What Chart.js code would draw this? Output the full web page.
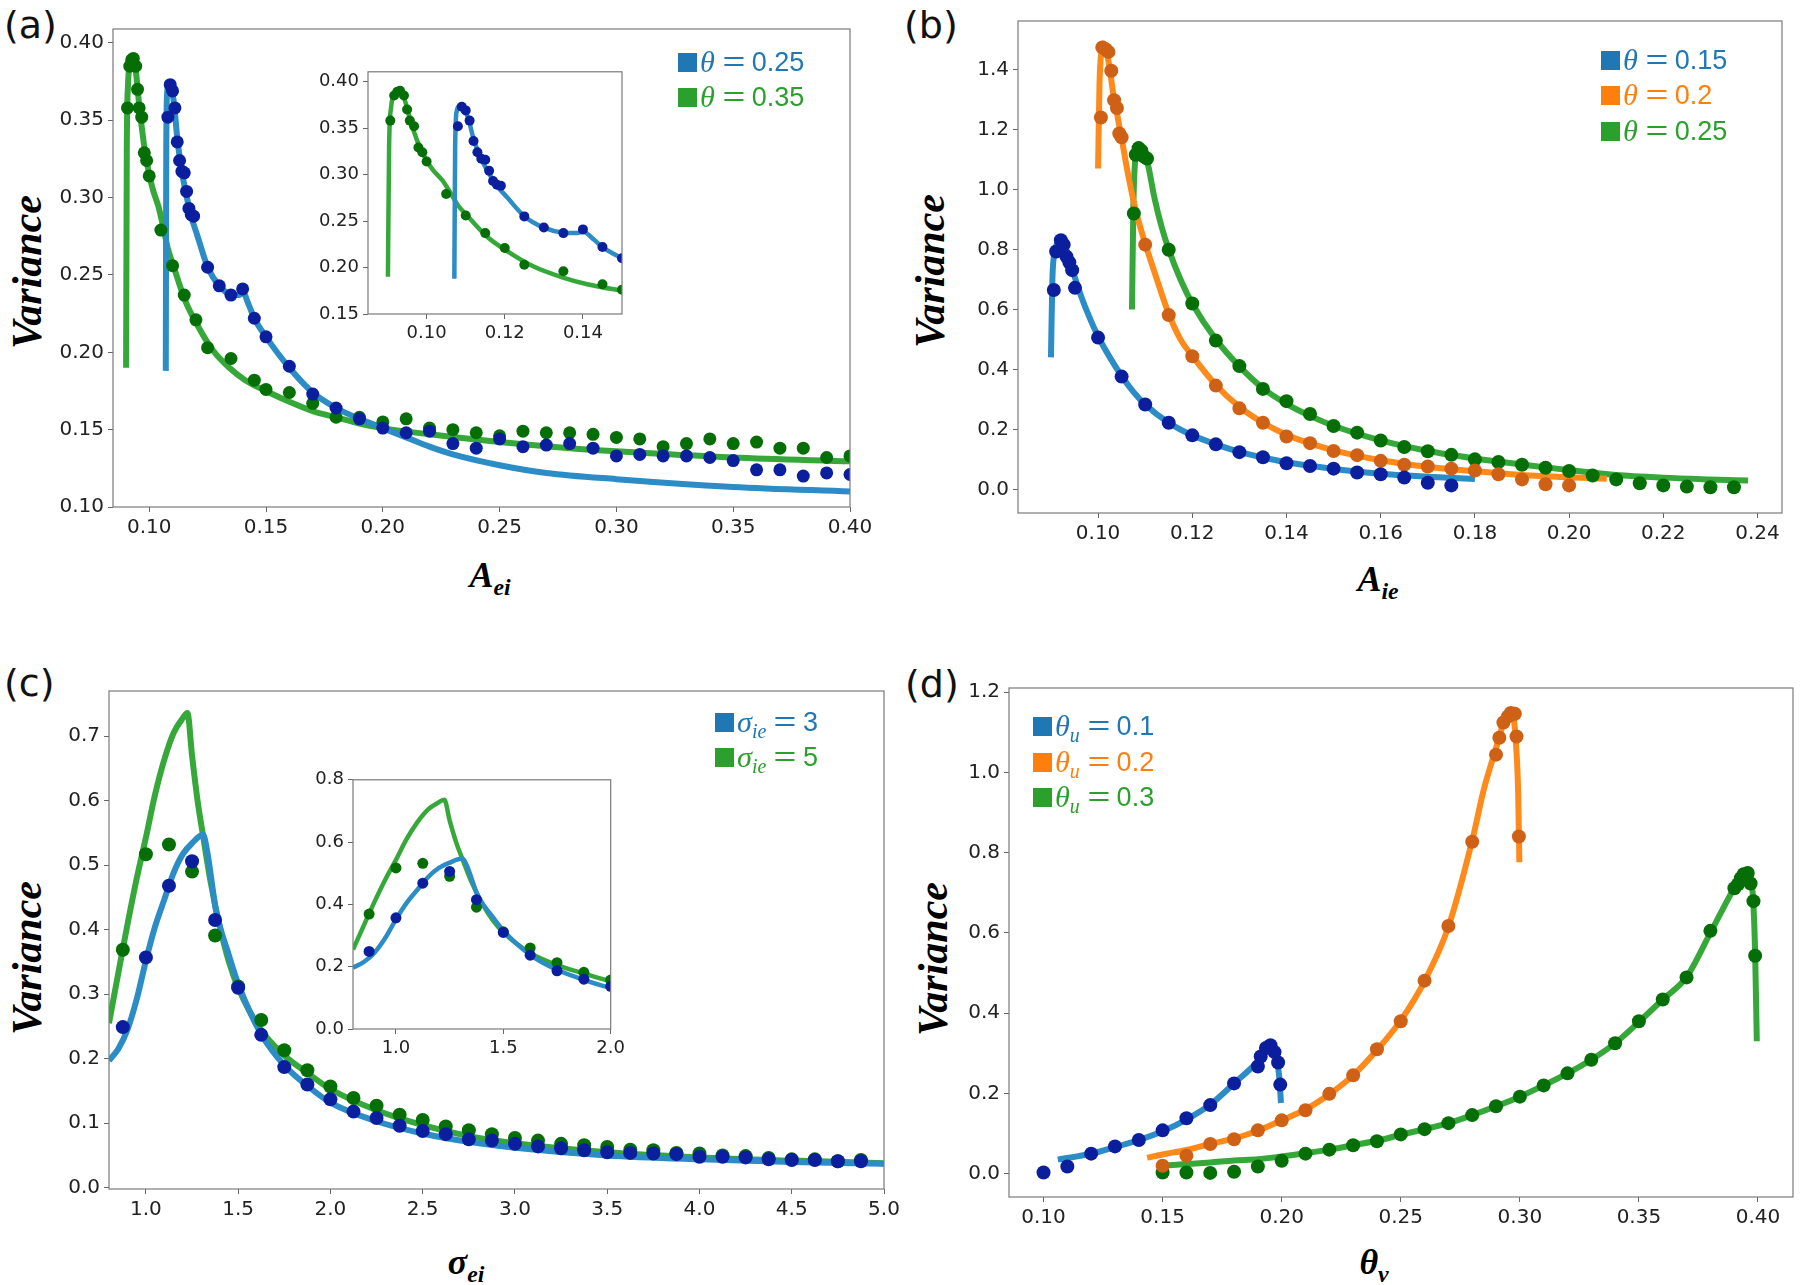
<!DOCTYPE html>
<html>
<head>
<meta charset="utf-8">
<script src="https://cdn.jsdelivr.net/npm/chart.js@4.4.1/dist/chart.umd.min.js"></script>
<style>
  body { margin: 0; background: #fff; }
  #fig { position: relative; width: 1800px; height: 1285px; overflow: hidden; background: #fff; }
  #fig canvas { position: absolute; }
  .pl { position: absolute; font: 38px 'DejaVu Sans', sans-serif; line-height: 1; color: #111; }
  .yt { position: absolute; font: italic bold 42px 'Liberation Serif', serif; color: #000;
        transform: translate(-50%, -50%) rotate(-90deg); white-space: nowrap; line-height: 1; }
  .xt { position: absolute; font: italic bold 36px 'Liberation Serif', serif; color: #000;
        transform: translate(-50%, -50%); white-space: nowrap; line-height: 1; }
  .xt sub, .leg sub { font-size: 0.66em; vertical-align: -0.32em; line-height: 0; }
  .leg { position: absolute; font: 27px 'Liberation Sans', sans-serif; line-height: 1; }
  .row { position: absolute; left: 0; white-space: nowrap; display: flex; align-items: center;
         height: 32px; transform: translateY(-50%); }
  .sw { width: 19px; height: 19px; display: inline-block; margin-right: 3px; }
  .m { font-family: 'Liberation Serif', serif; font-style: italic; font-size: 1.12em; }
  .eq { display: inline-block; margin: 0 10px 0 11px; transform: scaleX(1.45); }
</style>
</head>
<body>
<div id="fig">
  <div class="pl" style="left:4px;top:6px">(a)</div>
  <div class="pl" style="left:904px;top:6px">(b)</div>
  <div class="pl" style="left:4px;top:664px">(c)</div>
  <div class="pl" style="left:905px;top:665px">(d)</div>

  <div class="yt" style="left:27px;top:272px">Variance</div>
  <div class="yt" style="left:930px;top:271px">Variance</div>
  <div class="yt" style="left:27px;top:958px">Variance</div>
  <div class="yt" style="left:933px;top:959px">Variance</div>

  <div class="xt" style="left:490px;top:575px">A<sub>ei</sub></div>
  <div class="xt" style="left:1378px;top:579px">A<sub>ie</sub></div>
  <div class="xt" style="left:466px;top:1262px">σ<sub>ei</sub></div>
  <div class="xt" style="left:1374px;top:1262px">θ<sub>v</sub></div>
</div>

<script>
// ---------- panel (a): variance vs A_ei ----------
const aXTicks = [0.10, 0.15, 0.20, 0.25, 0.30, 0.35, 0.40];
const aYTicks = [0.10, 0.15, 0.20, 0.25, 0.30, 0.35, 0.40];
const aInsetXTicks = [0.10, 0.12, 0.14];
const aInsetYTicks = [0.15, 0.20, 0.25, 0.30, 0.35, 0.40];

const aBlueLineX = [0.1071, 0.1073, 0.1077, 0.1084, 0.1094, 0.1107, 0.112, 0.1137, 0.1154, 0.118, 0.1206, 0.125, 0.13, 0.135, 0.1385, 0.1401, 0.1428, 0.145, 0.15, 0.16, 0.17, 0.18, 0.19, 0.20, 0.21, 0.22, 0.23, 0.25, 0.27, 0.30, 0.35, 0.40];
const aBlueLineY = [0.188, 0.330, 0.368, 0.3737, 0.372, 0.3597, 0.3386, 0.3194, 0.3053, 0.2878, 0.2755, 0.2552, 0.2429, 0.2375, 0.237, 0.2385, 0.230, 0.2219, 0.210, 0.190, 0.174, 0.164, 0.157, 0.151, 0.145, 0.139, 0.134, 0.127, 0.122, 0.118, 0.113, 0.110];
const aGreenLineX = [0.0901, 0.0904, 0.0909, 0.0917, 0.0927, 0.0937, 0.0947, 0.0957, 0.0967, 0.098, 0.10, 0.1017, 0.104, 0.106, 0.108, 0.1103, 0.1154, 0.1206, 0.1274, 0.1343, 0.1411, 0.15, 0.16, 0.17, 0.18, 0.19, 0.20, 0.22, 0.25, 0.28, 0.30, 0.35, 0.40];
const aGreenLineY = [0.190, 0.330, 0.372, 0.386, 0.390, 0.388, 0.376, 0.360, 0.347, 0.332, 0.315, 0.3045, 0.294, 0.281, 0.267, 0.2562, 0.2334, 0.2177, 0.2010, 0.1900, 0.1820, 0.175, 0.168, 0.162, 0.158, 0.154, 0.151, 0.147, 0.142, 0.138, 0.136, 0.132, 0.1295];

const aBlueDotX = [0.108, 0.109, 0.110, 0.111, 0.112, 0.113, 0.114, 0.115, 0.116, 0.117, 0.118, 0.119, 0.125, 0.13, 0.135, 0.14, 0.145, 0.15, 0.16, 0.17, 0.18, 0.19, 0.20, 0.21, 0.22, 0.23, 0.24, 0.25, 0.26, 0.27, 0.28, 0.29, 0.30, 0.31, 0.32, 0.33, 0.34, 0.35, 0.36, 0.37, 0.38, 0.39, 0.40];
const aBlueDotY = [0.352, 0.373, 0.369, 0.358, 0.336, 0.324, 0.317, 0.316, 0.304, 0.293, 0.289, 0.288, 0.255, 0.243, 0.237, 0.241, 0.222, 0.210, 0.191, 0.173, 0.164, 0.157, 0.151, 0.148, 0.149, 0.141, 0.138, 0.144, 0.139, 0.140, 0.141, 0.138, 0.133, 0.134, 0.133, 0.133, 0.132, 0.130, 0.124, 0.124, 0.120, 0.122, 0.121];
const aGreenDotX = [0.0907, 0.0917, 0.0925, 0.0932, 0.0942, 0.095, 0.0957, 0.0968, 0.0979, 0.0989, 0.10, 0.105, 0.11, 0.115, 0.12, 0.125, 0.135, 0.145, 0.15, 0.16, 0.17, 0.18, 0.19, 0.20, 0.21, 0.22, 0.23, 0.24, 0.25, 0.26, 0.27, 0.28, 0.29, 0.30, 0.31, 0.32, 0.33, 0.34, 0.35, 0.36, 0.37, 0.38, 0.39, 0.40];
const aGreenDotY = [0.358, 0.385, 0.389, 0.390, 0.385, 0.370, 0.358, 0.352, 0.329, 0.324, 0.314, 0.279, 0.256, 0.237, 0.221, 0.203, 0.196, 0.182, 0.176, 0.174, 0.167, 0.158, 0.158, 0.155, 0.157, 0.151, 0.150, 0.148, 0.146, 0.149, 0.148, 0.148, 0.147, 0.145, 0.144, 0.139, 0.141, 0.144, 0.141, 0.142, 0.138, 0.138, 0.132, 0.133];

// ---------- panel (b): variance vs A_ie ----------
const bXTicks = [0.10, 0.12, 0.14, 0.16, 0.18, 0.20, 0.22, 0.24];
const bYTicks = [0.0, 0.2, 0.4, 0.6, 0.8, 1.0, 1.2, 1.4];

const bBlueLineX = [0.0900, 0.0903, 0.0908, 0.0915, 0.092, 0.093, 0.094, 0.095, 0.0965, 0.098, 0.100, 0.1025, 0.105, 0.1075, 0.11, 0.115, 0.12, 0.125, 0.13, 0.135, 0.14, 0.15, 0.16, 0.17, 0.18];
const bBlueLineY = [0.44, 0.70, 0.79, 0.825, 0.832, 0.81, 0.765, 0.71, 0.64, 0.58, 0.51, 0.44, 0.378, 0.325, 0.283, 0.222, 0.180, 0.150, 0.125, 0.106, 0.090, 0.068, 0.052, 0.042, 0.034];
const bOrangeLineX = [0.1000, 0.1003, 0.1007, 0.1011, 0.1018, 0.1025, 0.1033, 0.104, 0.105, 0.1065, 0.108, 0.11, 0.1125, 0.115, 0.1175, 0.12, 0.125, 0.13, 0.135, 0.14, 0.145, 0.15, 0.16, 0.17, 0.18, 0.19, 0.20, 0.208];
const bOrangeLineY = [1.07, 1.35, 1.46, 1.487, 1.46, 1.40, 1.31, 1.255, 1.17, 1.04, 0.93, 0.82, 0.70, 0.585, 0.50, 0.445, 0.348, 0.275, 0.222, 0.182, 0.153, 0.130, 0.097, 0.075, 0.060, 0.048, 0.040, 0.035];
const bGreenLineX = [0.1072, 0.1075, 0.1079, 0.1085, 0.109, 0.1097, 0.1105, 0.112, 0.1135, 0.115, 0.1175, 0.12, 0.125, 0.13, 0.135, 0.14, 0.145, 0.15, 0.16, 0.17, 0.18, 0.19, 0.20, 0.21, 0.22, 0.23, 0.238];
const bGreenLineY = [0.60, 0.95, 1.10, 1.135, 1.142, 1.13, 1.09, 0.97, 0.875, 0.80, 0.70, 0.62, 0.50, 0.41, 0.337, 0.285, 0.245, 0.212, 0.163, 0.128, 0.103, 0.083, 0.064, 0.048, 0.039, 0.033, 0.029];

const bBlueDotX = [0.0906, 0.0911, 0.0921, 0.0927, 0.0933, 0.0939, 0.0945, 0.0951, 0.10, 0.105, 0.11, 0.115, 0.12, 0.125, 0.13, 0.135, 0.14, 0.145, 0.15, 0.155, 0.16, 0.165, 0.17, 0.175];
const bBlueDotY = [0.665, 0.793, 0.831, 0.816, 0.776, 0.757, 0.731, 0.672, 0.506, 0.376, 0.283, 0.222, 0.180, 0.150, 0.124, 0.107, 0.087, 0.078, 0.069, 0.056, 0.050, 0.039, 0.022, 0.013];
const bOrangeDotX = [0.1006, 0.1009, 0.1016, 0.1022, 0.1028, 0.1034, 0.104, 0.1045, 0.105, 0.11, 0.115, 0.12, 0.125, 0.13, 0.135, 0.14, 0.145, 0.15, 0.155, 0.16, 0.165, 0.17, 0.175, 0.18, 0.185, 0.19, 0.195, 0.20];
const bOrangeDotY = [1.240, 1.474, 1.468, 1.459, 1.396, 1.298, 1.272, 1.187, 1.174, 0.816, 0.581, 0.444, 0.346, 0.270, 0.222, 0.176, 0.154, 0.128, 0.114, 0.095, 0.082, 0.076, 0.069, 0.063, 0.050, 0.033, 0.017, 0.013];
const bGreenDotX = [0.1076, 0.108, 0.1086, 0.1092, 0.1098, 0.1104, 0.115, 0.12, 0.125, 0.13, 0.135, 0.14, 0.145, 0.15, 0.155, 0.16, 0.165, 0.17, 0.175, 0.18, 0.185, 0.19, 0.195, 0.20, 0.205, 0.21, 0.215, 0.22, 0.225, 0.23, 0.235];
const bGreenDotY = [0.920, 1.116, 1.138, 1.129, 1.109, 1.103, 0.799, 0.620, 0.496, 0.411, 0.335, 0.294, 0.251, 0.211, 0.189, 0.163, 0.141, 0.127, 0.115, 0.100, 0.091, 0.082, 0.072, 0.061, 0.046, 0.033, 0.020, 0.013, 0.009, 0.007, 0.007];

// ---------- panel (c): variance vs sigma_ei ----------
const cXTicks = [1.0, 1.5, 2.0, 2.5, 3.0, 3.5, 4.0, 4.5, 5.0];
const cYTicks = [0.0, 0.1, 0.2, 0.3, 0.4, 0.5, 0.6, 0.7];
const cInsetXTicks = [1.0, 1.5, 2.0];
const cInsetYTicks = [0.0, 0.2, 0.4, 0.6, 0.8];

const cBlueLineX = [0.8, 0.85, 0.9, 0.95, 1.0, 1.05, 1.1, 1.15, 1.2, 1.25, 1.31, 1.33, 1.38, 1.45, 1.5, 1.625, 1.75, 1.875, 2.0, 2.25, 2.5, 2.75, 3.0, 3.5, 4.0, 4.5, 5.0];
const cBlueLineY = [0.197, 0.215, 0.245, 0.292, 0.352, 0.405, 0.447, 0.488, 0.517, 0.534, 0.547, 0.525, 0.430, 0.360, 0.316, 0.238, 0.190, 0.158, 0.132, 0.103, 0.084, 0.071, 0.062, 0.050, 0.044, 0.040, 0.037];
const cGreenLineX = [0.8, 0.85, 0.9, 0.95, 1.0, 1.05, 1.1, 1.15, 1.2, 1.225, 1.25, 1.28, 1.31, 1.35, 1.4, 1.45, 1.5, 1.625, 1.75, 1.875, 2.0, 2.25, 2.5, 2.75, 3.0, 3.5, 4.0, 4.5, 5.0];
const cGreenLineY = [0.255, 0.332, 0.408, 0.479, 0.543, 0.610, 0.664, 0.705, 0.728, 0.736, 0.670, 0.600, 0.545, 0.475, 0.405, 0.350, 0.310, 0.244, 0.205, 0.178, 0.153, 0.120, 0.097, 0.080, 0.069, 0.055, 0.047, 0.042, 0.038];

const cDotX = [0.875, 1.0, 1.125, 1.25, 1.375, 1.5, 1.625, 1.75, 1.875, 2.0, 2.125, 2.25, 2.375, 2.5, 2.625, 2.75, 2.875, 3.0, 3.125, 3.25, 3.375, 3.5, 3.625, 3.75, 3.875, 4.0, 4.125, 4.25, 4.375, 4.5, 4.625, 4.75, 4.875];
const cBlueDotY = [0.249, 0.357, 0.468, 0.506, 0.415, 0.310, 0.237, 0.187, 0.160, 0.137, 0.118, 0.108, 0.096, 0.088, 0.083, 0.075, 0.073, 0.068, 0.064, 0.061, 0.058, 0.055, 0.054, 0.053, 0.052, 0.048, 0.048, 0.047, 0.044, 0.043, 0.043, 0.041, 0.041];
const cGreenDotY = [0.369, 0.517, 0.532, 0.490, 0.391, 0.312, 0.260, 0.213, 0.182, 0.157, 0.139, 0.127, 0.113, 0.105, 0.095, 0.089, 0.083, 0.077, 0.073, 0.068, 0.066, 0.063, 0.059, 0.058, 0.054, 0.053, 0.050, 0.049, 0.046, 0.044, 0.044, 0.041, 0.043];

// ---------- panel (d): variance vs theta_v ----------
const dXTicks = [0.10, 0.15, 0.20, 0.25, 0.30, 0.35, 0.40];
const dYTicks = [0.0, 0.2, 0.4, 0.6, 0.8, 1.0, 1.2];

const dBlueLineX = [0.106, 0.12, 0.13, 0.14, 0.15, 0.16, 0.17, 0.18, 0.19, 0.1953, 0.1978, 0.199, 0.1997];
const dBlueLineY = [0.035, 0.050, 0.066, 0.084, 0.106, 0.135, 0.172, 0.225, 0.280, 0.323, 0.290, 0.240, 0.176];
const dOrangeLineX = [0.1435, 0.15, 0.16, 0.17, 0.18, 0.19, 0.20, 0.21, 0.22, 0.23, 0.24, 0.25, 0.26, 0.27, 0.28, 0.285, 0.29, 0.293, 0.2955, 0.297, 0.298, 0.2993, 0.2998];
const dOrangeLineY = [0.040, 0.048, 0.059, 0.074, 0.088, 0.107, 0.133, 0.160, 0.198, 0.245, 0.308, 0.382, 0.480, 0.615, 0.830, 0.960, 1.060, 1.120, 1.150, 1.150, 1.100, 0.950, 0.776];
const dGreenLineX = [0.1495, 0.16, 0.17, 0.18, 0.19, 0.20, 0.21, 0.22, 0.23, 0.24, 0.25, 0.26, 0.27, 0.28, 0.29, 0.30, 0.31, 0.32, 0.33, 0.34, 0.35, 0.36, 0.37, 0.38, 0.39, 0.3935, 0.3955, 0.397, 0.398, 0.3988, 0.3995];
const dGreenLineY = [0.020, 0.024, 0.028, 0.033, 0.036, 0.043, 0.051, 0.060, 0.071, 0.082, 0.097, 0.111, 0.126, 0.146, 0.168, 0.192, 0.220, 0.250, 0.284, 0.325, 0.378, 0.434, 0.490, 0.600, 0.712, 0.745, 0.750, 0.730, 0.680, 0.550, 0.330];

const dBlueDotX = [0.10, 0.11, 0.12, 0.13, 0.14, 0.15, 0.16, 0.17, 0.18, 0.19, 0.1912, 0.1934, 0.1953, 0.197, 0.1985, 0.1994];
const dBlueDotY = [0.003, 0.018, 0.050, 0.068, 0.084, 0.108, 0.138, 0.171, 0.225, 0.267, 0.292, 0.313, 0.320, 0.303, 0.277, 0.222];
const dOrangeDotX = [0.15, 0.16, 0.17, 0.18, 0.19, 0.20, 0.21, 0.22, 0.23, 0.24, 0.25, 0.26, 0.27, 0.28, 0.29, 0.2914, 0.2931, 0.295, 0.2962, 0.2979, 0.2986, 0.2996];
const dOrangeDotY = [0.020, 0.045, 0.074, 0.086, 0.108, 0.133, 0.158, 0.199, 0.245, 0.310, 0.380, 0.481, 0.617, 0.827, 1.044, 1.086, 1.124, 1.139, 1.148, 1.146, 1.089, 0.840];
const dGreenDotX = [0.15, 0.16, 0.17, 0.18, 0.19, 0.20, 0.21, 0.22, 0.23, 0.24, 0.25, 0.26, 0.27, 0.28, 0.29, 0.30, 0.31, 0.32, 0.33, 0.34, 0.35, 0.36, 0.37, 0.38, 0.3901, 0.3916, 0.3928, 0.394, 0.3957, 0.3969, 0.3981, 0.3988];
const dGreenDotY = [0.003, 0.003, 0.002, 0.005, 0.018, 0.032, 0.050, 0.060, 0.071, 0.081, 0.098, 0.111, 0.126, 0.146, 0.168, 0.192, 0.220, 0.250, 0.284, 0.325, 0.380, 0.434, 0.489, 0.605, 0.711, 0.721, 0.736, 0.746, 0.749, 0.723, 0.679, 0.543];

// legend entries: [colour, symbol, subscript, value]
const aLegend = [['#1f77b4', 'θ', '', '0.25'], ['#2ca02c', 'θ', '', '0.35']];
const bLegend = [['#1f77b4', 'θ', '', '0.15'], ['#ff7f0e', 'θ', '', '0.2'], ['#2ca02c', 'θ', '', '0.25']];
const cLegend = [['#1f77b4', 'σ', 'ie', '3'], ['#2ca02c', 'σ', 'ie', '5']];
const dLegend = [['#1f77b4', 'θ', 'u', '0.1'], ['#ff7f0e', 'θ', 'u', '0.2'], ['#2ca02c', 'θ', 'u', '0.3']];

const BLUE_LINE = '#2b8cc6', GREEN_LINE = '#36a83a', ORANGE_LINE = '#fd8a1a';
const BLUE_DOT = '#0b1f9e', GREEN_DOT = '#056e06', ORANGE_DOT = '#cf6117';

const fig = document.getElementById('fig');
const zip = (xs, ys) => xs.map((x, i) => ({ x: x, y: ys[i] }));

const curve = (xs, ys, color, w, order) => ({
  data: zip(xs, ys), showLine: true, pointRadius: 0, pointHoverRadius: 0,
  borderColor: color, borderWidth: w, borderCapStyle: 'butt', borderJoinStyle: 'round',
  cubicInterpolationMode: 'monotone', clip: 0, order: order
});
const dots = (xs, ys, color, r, order) => ({
  data: zip(xs, ys), showLine: false, pointRadius: r, pointHoverRadius: r,
  pointBackgroundColor: color, pointBorderWidth: 0, clip: 0, order: order
});

// white plot area and a grey box around it, like the matplotlib axes frame
const framePlugin = {
  id: 'frame',
  beforeDraw(chart) {
    const a = chart.chartArea, ctx = chart.ctx;
    ctx.save();
    ctx.fillStyle = '#fff';
    ctx.fillRect(a.left, a.top, a.right - a.left, a.bottom - a.top);
    ctx.restore();
  },
  afterDraw(chart) {
    const a = chart.chartArea, ctx = chart.ctx;
    ctx.save();
    ctx.strokeStyle = '#7a7a7a';
    ctx.lineWidth = 1.2;
    ctx.strokeRect(a.left, a.top, a.right - a.left, a.bottom - a.top);
    ctx.restore();
  }
};

const axis = (min, max, ticks, digits, size, isX, m) => ({
  type: 'linear', min: min, max: max,
  afterBuildTicks: (s) => { s.ticks = ticks.map((v) => ({ value: v })); },
  afterFit: (s) => { if (isX) { s.height = m.b; } else { s.width = m.l; } },
  border: { display: false },
  grid: { drawOnChartArea: false, drawTicks: true, tickLength: 5, color: '#666', tickWidth: 1 },
  ticks: {
    autoSkip: false, maxRotation: 0, minRotation: 0, padding: 4, color: '#222',
    font: { family: 'DejaVu Sans', size: size },
    callback: (v) => Number(v).toFixed(digits)
  }
});

const makeChart = (box, m, xr, yr, datasets, size) => {
  const cv = document.createElement('canvas');
  const w = box.R - box.L + m.l + m.r, h = box.B - box.T + m.t + m.b;
  cv.width = w; cv.height = h;
  cv.style.left = (box.L - m.l) + 'px';
  cv.style.top = (box.T - m.t) + 'px';
  cv.style.width = w + 'px';
  cv.style.height = h + 'px';
  fig.appendChild(cv);
  return new Chart(cv, {
    type: 'scatter',
    data: { datasets: datasets },
    options: {
      responsive: false, animation: false, devicePixelRatio: 1, events: [],
      layout: { padding: { top: m.t, right: m.r, left: 0, bottom: 0 } },
      plugins: { legend: { display: false }, tooltip: { enabled: false } },
      scales: {
        x: axis(xr[0], xr[1], xr[2], xr[3], size, true, m),
        y: axis(yr[0], yr[1], yr[2], yr[3], size, false, m)
      }
    },
    plugins: [framePlugin]
  });
};

const addLegend = (left, rows, entries) => {
  const box = document.createElement('div');
  box.className = 'leg';
  box.style.left = left + 'px';
  box.style.top = '0px';
  entries.forEach((e, i) => {
    const row = document.createElement('div');
    row.className = 'row';
    row.style.top = rows[i] + 'px';
    row.style.color = e[0];
    row.innerHTML = '<span class="sw" style="background:' + e[0] + '"></span>' +
      '<span class="m">' + e[1] + (e[2] ? '<sub>' + e[2] + '</sub>' : '') + '</span>' +
      '<span class="eq">=</span>' + e[3];
    box.appendChild(row);
  });
  fig.appendChild(box);
};

const MAIN = { l: 90, t: 16, r: 32, b: 50 };
const INSET = { l: 62, t: 10, r: 14, b: 32 };

// (a)
makeChart({ L: 113, R: 850, T: 29, B: 507 }, MAIN,
  [0.0845, 0.40, aXTicks, 2], [0.10, 0.409, aYTicks, 2], [
    curve(aGreenLineX, aGreenLineY, GREEN_LINE, 6, 4),
    curve(aBlueLineX, aBlueLineY, BLUE_LINE, 6, 3),
    dots(aGreenDotX, aGreenDotY, GREEN_DOT, 6.5, 2),
    dots(aBlueDotX, aBlueDotY, BLUE_DOT, 6.5, 1)
  ], 20);
makeChart({ L: 368, R: 622, T: 67, B: 314 }, INSET,
  [0.085, 0.150, aInsetXTicks, 2], [0.15, 0.4105, aInsetYTicks, 2], [
    curve(aGreenLineX, aGreenLineY, GREEN_LINE, 4.5, 4),
    curve(aBlueLineX, aBlueLineY, BLUE_LINE, 4.5, 3),
    dots(aGreenDotX, aGreenDotY, GREEN_DOT, 5, 2),
    dots(aBlueDotX, aBlueDotY, BLUE_DOT, 5, 1)
  ], 18);

// (b)
makeChart({ L: 1018, R: 1782, T: 21, B: 513 }, MAIN,
  [0.083, 0.2452, bXTicks, 2], [-0.079, 1.562, bYTicks, 1], [
    curve(bGreenLineX, bGreenLineY, GREEN_LINE, 6, 6),
    curve(bOrangeLineX, bOrangeLineY, ORANGE_LINE, 6, 5),
    curve(bBlueLineX, bBlueLineY, BLUE_LINE, 6, 4),
    dots(bGreenDotX, bGreenDotY, GREEN_DOT, 7, 3),
    dots(bOrangeDotX, bOrangeDotY, ORANGE_DOT, 7, 2),
    dots(bBlueDotX, bBlueDotY, BLUE_DOT, 7, 1)
  ], 20);

// (c)
makeChart({ L: 109, R: 884, T: 691, B: 1189 }, MAIN,
  [0.80, 5.0, cXTicks, 1], [-0.002, 0.77, cYTicks, 1], [
    curve(cGreenLineX, cGreenLineY, GREEN_LINE, 6, 4),
    curve(cBlueLineX, cBlueLineY, BLUE_LINE, 6, 3),
    dots(cDotX, cGreenDotY, GREEN_DOT, 7, 2),
    dots(cDotX, cBlueDotY, BLUE_DOT, 7, 1)
  ], 20);
makeChart({ L: 353, R: 615, T: 775, B: 1029 }, INSET,
  [0.80, 2.0, cInsetXTicks, 1], [0.0, 0.8, cInsetYTicks, 1], [
    curve(cGreenLineX, cGreenLineY, GREEN_LINE, 4.5, 4),
    curve(cBlueLineX, cBlueLineY, BLUE_LINE, 4.5, 3),
    dots(cDotX, cGreenDotY, GREEN_DOT, 5.5, 2),
    dots(cDotX, cBlueDotY, BLUE_DOT, 5.5, 1)
  ], 18);

// (d)
makeChart({ L: 1009, R: 1793, T: 688, B: 1197 }, MAIN,
  [0.0855, 0.4147, dXTicks, 2], [-0.058, 1.21, dYTicks, 1], [
    curve(dGreenLineX, dGreenLineY, GREEN_LINE, 6, 6),
    curve(dOrangeLineX, dOrangeLineY, ORANGE_LINE, 6, 5),
    curve(dBlueLineX, dBlueLineY, BLUE_LINE, 6, 4),
    dots(dGreenDotX, dGreenDotY, GREEN_DOT, 7, 3),
    dots(dOrangeDotX, dOrangeDotY, ORANGE_DOT, 7, 2),
    dots(dBlueDotX, dBlueDotY, BLUE_DOT, 7, 1)
  ], 20);

addLegend(678, [62, 97], aLegend);
addLegend(1601, [60, 95, 131], bLegend);
addLegend(715, [722, 757], cLegend);
addLegend(1033, [726, 762, 797], dLegend);
</script>
</body>
</html>
